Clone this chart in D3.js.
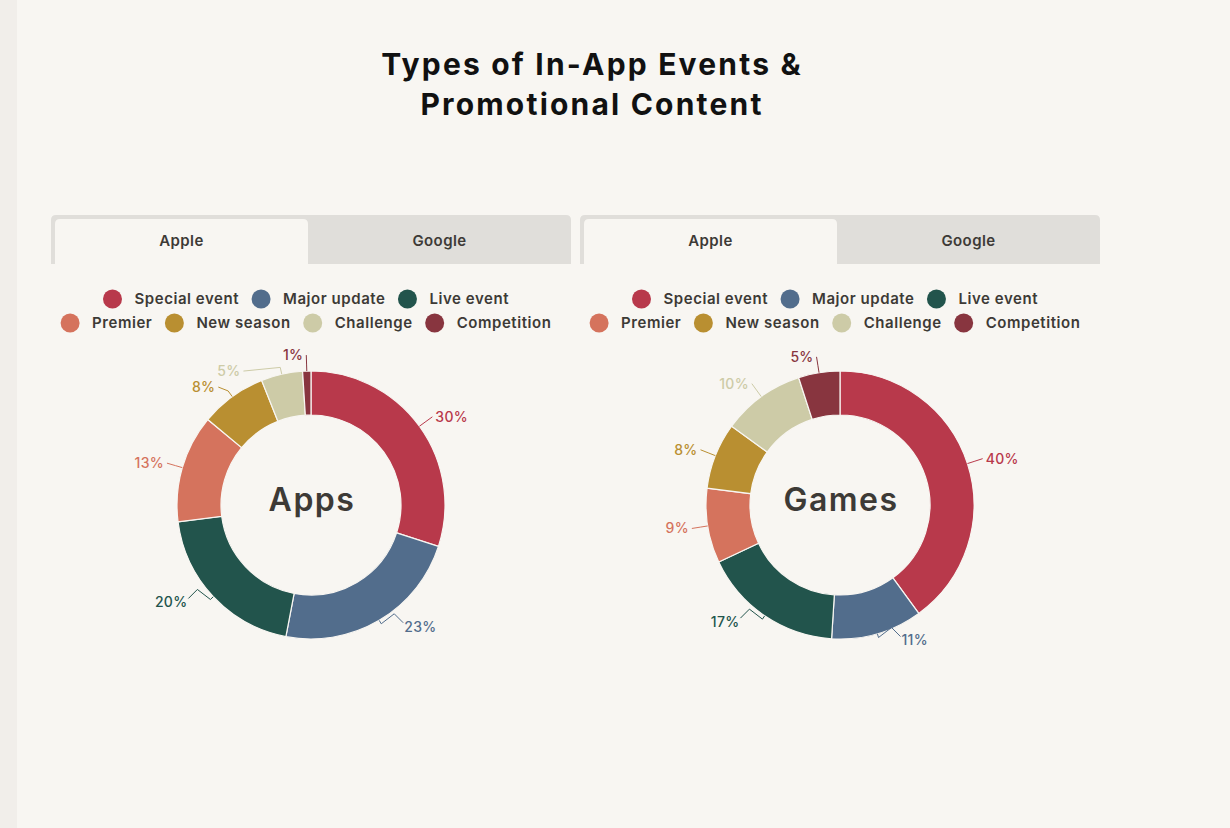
<!DOCTYPE html>
<html>
<head>
<meta charset="utf-8">
<script src="https://cdn.jsdelivr.net/npm/d3@7"></script>
<style>
  html, body { margin: 0; padding: 0; background: #f8f6f2; }
  svg { display: block; }
  text { font-family: Inter, "Open Sans", sans-serif; }
</style>
</head>
<body>
<svg id="chart" width="1230" height="828"></svg>
<script>
// ---- data ----
const categories = ["Special event", "Major update", "Live event", "Premier", "New season", "Challenge", "Competition"];
const colors = ["#b8394b", "#526d8c", "#22544c", "#d5735d", "#b98f31", "#cdcba7", "#88353f"];
const appsValues = [30, 23, 20, 13, 8, 5, 1];
const gamesValues = [40, 11, 17, 9, 8, 10, 5];
const chartNames = ["Apps", "Games"];
const tabLabels = ["Apple", "Google"];
const titleLines = ["Types of In-App Events &", "Promotional Content"];

// ---- layout ----
const W = 1230, H = 828;
const BG = "#f8f6f2";
const TXT = "#3d3a36";
const svg = d3.select("#chart");

svg.append("rect").attr("width", W).attr("height", H).attr("fill", BG);
svg.append("rect").attr("width", 17).attr("height", H).attr("fill", "#f1eeea");

// title
const title = svg.append("text")
  .attr("x", 592).attr("y", 75)
  .attr("text-anchor", "middle")
  .attr("font-size", 30).attr("font-weight", 700)
  .attr("letter-spacing", 2.2)
  .attr("fill", "#111");
titleLines.forEach((t, i) => {
  title.append("tspan").attr("x", 592).attr("dy", i === 0 ? 0 : 40).text(t);
});

const panels = [
  { x: 51, values: appsValues, name: chartNames[0], cx: 311 },
  { x: 580, values: gamesValues, name: chartNames[1], cx: 840 }
];
const panelW = 520;
const cy = 505;
const rOuter = 134, rInner = 90, rLabel = 150;

function topRoundedRect(x, y, w, h, r) {
  return `M${x},${y + h} L${x},${y + r} Q${x},${y} ${x + r},${y} L${x + w - r},${y} Q${x + w},${y} ${x + w},${y + r} L${x + w},${y + h} Z`;
}

const pie = d3.pie().sort(null).value(d => d);
const arc = d3.arc().innerRadius(rInner).outerRadius(rOuter);

panels.forEach(p => {
  const g = svg.append("g");

  // tabs
  g.append("path").attr("d", topRoundedRect(p.x, 215, panelW, 49, 5)).attr("fill", "#e0deda");
  const activeW = 253;
  g.append("path").attr("d", topRoundedRect(p.x + 4, 219, activeW, 45, 5)).attr("fill", BG);
  g.append("text").attr("x", p.x + 4 + activeW / 2).attr("y", 246)
    .attr("text-anchor", "middle").attr("font-size", 15).attr("font-weight", 600)
    .attr("letter-spacing", 0.4)
    .attr("fill", TXT).text(tabLabels[0]);
  g.append("text").attr("x", p.x + 4 + activeW + (panelW - 4 - activeW) / 2).attr("y", 246)
    .attr("text-anchor", "middle").attr("font-size", 15).attr("font-weight", 600)
    .attr("letter-spacing", 0.4)
    .attr("fill", TXT).text(tabLabels[1]);

  // legend (two rows, centered)
  const rows = [[0, 1, 2], [3, 4, 5, 6]];
  const rowY = [299, 323];
  const dotR = 9.5, gapIn = 12.5, gapOut = 12.5;
  rows.forEach((row, ri) => {
    const rg = g.append("g");
    let x = 0;
    row.forEach((ci, k) => {
      if (k > 0) x += gapOut;
      rg.append("circle").attr("cx", x + dotR).attr("cy", rowY[ri]).attr("r", dotR).attr("fill", colors[ci]);
      x += dotR * 2 + gapIn;
      const t = rg.append("text").attr("x", x).attr("y", rowY[ri]).attr("dy", "0.35em")
        .attr("font-size", 15).attr("font-weight", 600).attr("letter-spacing", 0.55)
        .attr("fill", TXT).text(categories[ci]);
      x += t.node().getComputedTextLength();
    });
    rg.attr("transform", `translate(${p.cx - 5 - x / 2},0)`);
  });

  // donut
  const dg = g.append("g").attr("transform", `translate(${p.cx},${cy})`);
  const arcs = pie(p.values);
  dg.selectAll("path.slice").data(arcs).join("path")
    .attr("class", "slice")
    .attr("d", arc)
    .attr("fill", (d, i) => colors[i])
    .attr("stroke", BG).attr("stroke-width", 1.2);

  // labels
  const polar = (a, r) => [r * Math.sin(a), -r * Math.cos(a)];
  const labels = arcs.map((d, i) => {
    const mid = (d.startAngle + d.endAngle) / 2;
    const right = Math.sin(mid) >= 0 && mid < Math.PI * 1.9;
    const bottom = -Math.cos(mid) > 0.6;
    const [x, y] = polar(mid, rLabel);
    return { i, mid, right, bottom, x, y, v: d.data };
  });
  // simple collision avoidance for non-bottom labels
  [true, false].forEach(side => {
    const grp = labels.filter(l => l.right === side && !l.bottom).sort((a, b) => a.y - b.y);
    for (let k = 1; k < grp.length; k++) {
      if (grp[k].y - grp[k - 1].y < 16) {
        grp[k].y = grp[k - 1].y + 16;
        const dx = Math.sqrt(Math.max(0, rLabel * rLabel - grp[k].y * grp[k].y));
        grp[k].x = side ? dx : -dx;
      }
    }
  });

  labels.forEach(l => {
    const s = l.right ? 1 : -1;
    const p0 = polar(l.mid, rOuter);
    let pts, tx, ty;
    if (l.bottom) {
      const p1 = polar(l.mid, rOuter + 4);
      const p2 = [p1[0] + s * 13, p1[1] - 10];
      const p3 = [p2[0] + s * 9, p2[1] + 9];
      pts = [p0, p1, p2, p3];
      tx = p3[0] + s * 1; ty = p3[1] + 4;
    } else {
      const p1 = polar(l.mid, rOuter + 7);
      pts = [p0, p1, [l.x, l.y]];
      tx = l.x + s * 3; ty = l.y;
    }
    dg.append("polyline")
      .attr("points", pts.map(q => q.join(",")).join(" "))
      .attr("fill", "none").attr("stroke", colors[l.i]).attr("stroke-width", 1);
    dg.append("text")
      .attr("x", tx).attr("y", ty).attr("dy", "0.35em")
      .attr("text-anchor", l.right ? "start" : "end")
      .attr("font-size", 14).attr("font-weight", 500).attr("letter-spacing", 0.3)
      .attr("fill", colors[l.i]).text(l.v + "%");
  });

  // center label
  dg.append("text").attr("x", 1).attr("y", 6)
    .attr("text-anchor", "middle").attr("font-size", 32).attr("font-weight", 600)
    .attr("letter-spacing", 1.5)
    .attr("fill", TXT).text(p.name);
});
</script>
</body>
</html>
